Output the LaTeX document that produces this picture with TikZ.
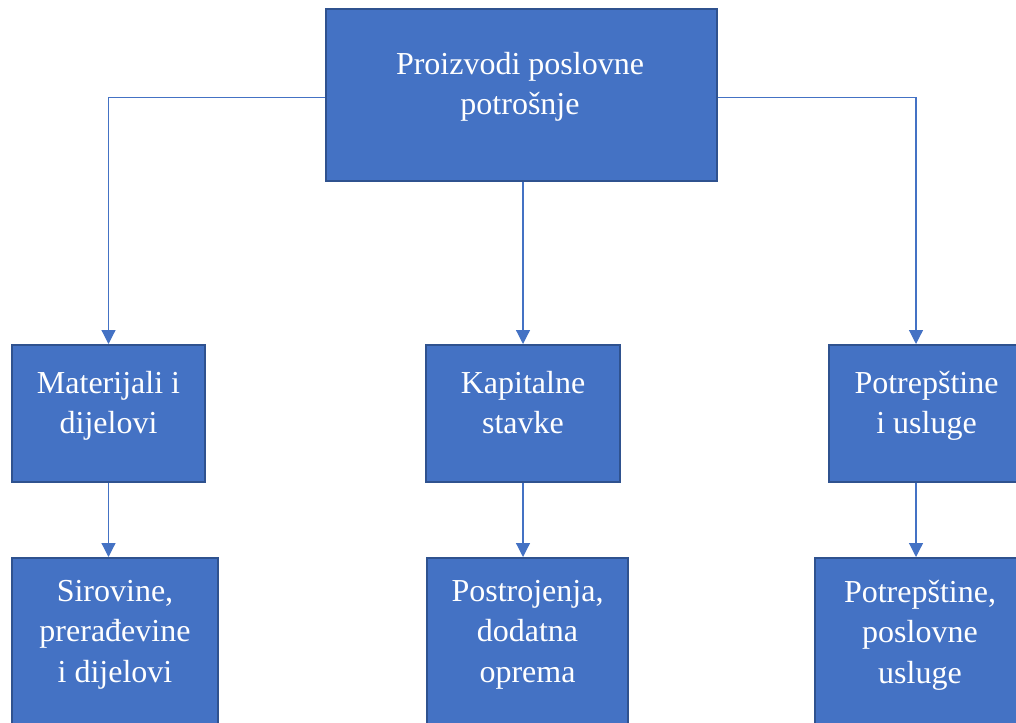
\documentclass[tikz,border=0pt]{standalone}
\usepackage{fontspec}
\setmainfont{Liberation Serif}
\usetikzlibrary{arrows.meta}
\definecolor{boxfill}{HTML}{4472C4}
\definecolor{boxline}{HTML}{2F528F}
\begin{document}
\begin{tikzpicture}[x=1pt,y=-1pt,
  box/.style={draw=boxline, line width=2pt, fill=boxfill, rectangle, inner sep=0pt},
  lbl/.style={text=white, align=center, anchor=north, inner sep=0pt, font=\fontsize{32}{40.5}\selectfont},
  conn/.style={draw=boxfill, line width=1.2pt, -{Triangle[width=14pt,length=14pt]}}]
\clip (0,0) rectangle (1016,722);

\node[box, minimum width=391, minimum height=171] (t1) at (521,95) {};
\node[lbl] (t1l) at (520,52) {Proizvodi poslovne\\potrošnje};

\node[box, minimum width=193, minimum height=137] (m1) at (108.5,413.5) {};
\node[box, minimum width=194, minimum height=137] (m2) at (523,413.5) {};
\node[box, minimum width=193, minimum height=137] (m3) at (925.5,413.5) {};
\node[lbl] (m1l) at (108.5,371) {Materijali i\\dijelovi};
\node[lbl] (m2l) at (523,371) {Kapitalne\\stavke};
\node[lbl] (m3l) at (926.5,371) {Potrepštine\\i usluge};

\node[box, minimum width=206, minimum height=242] (b1) at (115,679) {};
\node[box, minimum width=201, minimum height=242] (b2) at (527.5,679) {};
\node[box, minimum width=206, minimum height=242] (b3) at (918,679) {};
\node[lbl] (b1l) at (115,580) {Sirovine,\\prerađevine\\i dijelovi};
\node[lbl] (b2l) at (527.5,580) {Postrojenja,\\dodatna\\oprema};
\node[lbl] (b3l) at (920,580) {Potrepštine,\\poslovne\\usluge};

\path[conn] ([yshift=-2.5pt]t1.west) -| (m1.north);
\path[conn] (t1.south -| m2.north) -- (m2.north);
\path[conn] ([yshift=-2.5pt]t1.east) -| ([xshift=-9.5pt]m3.north);

\path[conn] (m1.south) -- (m1.south |- b1.north);
\path[conn] (m2.south) -- (m2.south |- b2.north);
\path[conn] ([xshift=-9.5pt]m3.south) -- ([xshift=-9.5pt]m3.south |- b3.north);
\end{tikzpicture}
\end{document}
